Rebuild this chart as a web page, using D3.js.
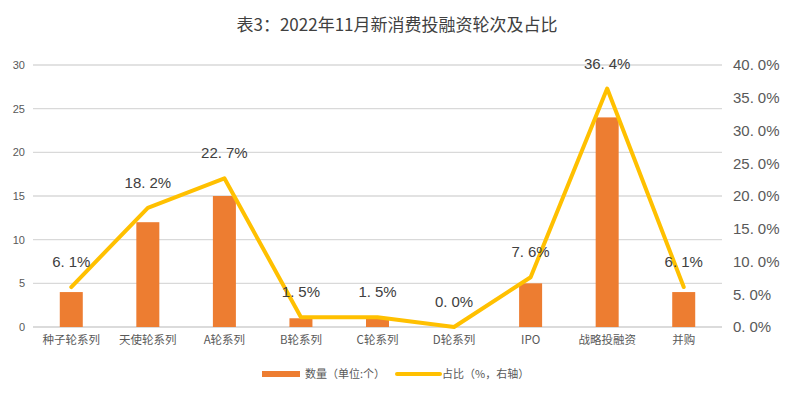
<!DOCTYPE html>
<html><head><meta charset="utf-8">
<script src="https://cdn.jsdelivr.net/npm/d3@7"></script>
<style>
html,body{margin:0;padding:0;background:#fff;}
svg{display:block;}
</style>
</head><body>
<svg id="chart" width="794" height="397"></svg>
<script>
const categories = ["种子轮系列","天使轮系列","A轮系列","B轮系列","C轮系列","D轮系列","IPO","战略投融资","并购"];
const counts = [4, 12, 15, 1, 1, 0, 5, 24, 4];
const shares = [6.1, 18.2, 22.7, 1.5, 1.5, 0.0, 7.6, 36.4, 6.1];
const leftTicks = [0, 5, 10, 15, 20, 25, 30];
const rightTicks = [0, 5, 10, 15, 20, 25, 30, 35, 40];
const titleText = "表3：2022年11月新消费投融资轮次及占比";
const legendLabels = ["数量（单位:个）", "占比（%，右轴）"];

const svg = d3.select("#chart");
const W = 794, H = 397;
const m = {left: 33, right: 72, top: 65, bottom: 70};
const x0 = m.left, x1 = W - m.right, y0 = H - m.bottom, y1 = m.top;
const font = "'Noto Sans CJK SC','Noto Sans',sans-serif";
const numFont = "'Liberation Sans','Noto Sans CJK SC',sans-serif";

svg.append("rect").attr("width", W).attr("height", H).attr("fill", "#fff");

const x = d3.scaleBand().domain(categories).range([x0, x1]).paddingInner(0).paddingOuter(0);
const yL = d3.scaleLinear().domain([0, 30]).range([y0, y1]);
const yR = d3.scaleLinear().domain([0, 40]).range([y0, y1]);

// title
svg.append("text").attr("x", W/2).attr("y", 31).attr("text-anchor", "middle")
  .attr("font-family", font).attr("font-size", 17).attr("fill", "#404040").text(titleText);

// gridlines
svg.append("g").selectAll("line").data(leftTicks).join("line")
  .attr("x1", x0).attr("x2", x1).attr("y1", d => yL(d)).attr("y2", d => yL(d))
  .attr("stroke", d => d === 0 ? "#cfcfcf" : "#d9d9d9").attr("stroke-width", d => d === 0 ? 1.5 : 1.3);

// left axis
const gL = svg.append("g").attr("transform", `translate(${x0},0)`)
  .call(d3.axisLeft(yL).tickValues(leftTicks).tickSize(0).tickPadding(8));
gL.select(".domain").remove();
gL.selectAll("text").attr("font-family", numFont).attr("font-size", 11).attr("fill", "#595959");

// right axis
function fmtPct(sel, v) {
  const s = v.toFixed(1);
  const parts = s.split(".");
  sel.text(null);
  sel.append("tspan").text(parts[0] + ".");
  sel.append("tspan").attr("dx", 4).text(parts[1] + "%");
}
const gR = svg.append("g");
rightTicks.forEach(t => {
  const tx = gR.append("text").attr("x", 733).attr("y", yR(t)).attr("dy", "0.36em")
    .attr("font-family", numFont).attr("font-size", 15).attr("fill", "#595959");
  fmtPct(tx, t);
});

// x labels
svg.append("g").selectAll("text").data(categories).join("text")
  .attr("x", d => x(d) + x.bandwidth()/2).attr("y", y0 + 17).attr("text-anchor", "middle")
  .attr("font-family", font).attr("font-size", 11.5).attr("fill", "#595959").text(d => d);

// bars
const bw = 23;
svg.append("g").selectAll("rect").data(categories).join("rect")
  .attr("x", d => x(d) + x.bandwidth()/2 - bw/2)
  .attr("y", (d, i) => yL(counts[i]))
  .attr("width", bw)
  .attr("height", (d, i) => y0 - yL(counts[i]))
  .attr("fill", "#ED7D31");

// line
const line = d3.line().x((d, i) => x(categories[i]) + x.bandwidth()/2).y(d => yR(d));
svg.append("path").datum(shares).attr("d", line).attr("fill", "none")
  .attr("stroke", "#FFC000").attr("stroke-width", 4).attr("stroke-linejoin", "round").attr("stroke-linecap", "round");

// data labels
const gD = svg.append("g");
shares.forEach((v, i) => {
  const tx = gD.append("text").attr("x", x(categories[i]) + x.bandwidth()/2).attr("y", yR(v) - 20)
    .attr("text-anchor", "middle").attr("font-family", numFont).attr("font-size", 15).attr("fill", "#404040");
  fmtPct(tx, v);
});

// legend
const lg = svg.append("g");
lg.append("rect").attr("x", 262).attr("y", 371).attr("width", 38).attr("height", 6).attr("fill", "#ED7D31");
lg.append("text").attr("x", 305).attr("y", 374).attr("dy", "0.35em").attr("font-family", font)
  .attr("font-size", 11).attr("fill", "#595959").text(legendLabels[0]);
lg.append("line").attr("x1", 397).attr("x2", 440).attr("y1", 374).attr("y2", 374)
  .attr("stroke", "#FFC000").attr("stroke-width", 4).attr("stroke-linecap", "round");
lg.append("text").attr("x", 442).attr("y", 374).attr("dy", "0.35em").attr("font-family", font)
  .attr("font-size", 11).attr("fill", "#595959").text(legendLabels[1]);
</script>
</body></html>
